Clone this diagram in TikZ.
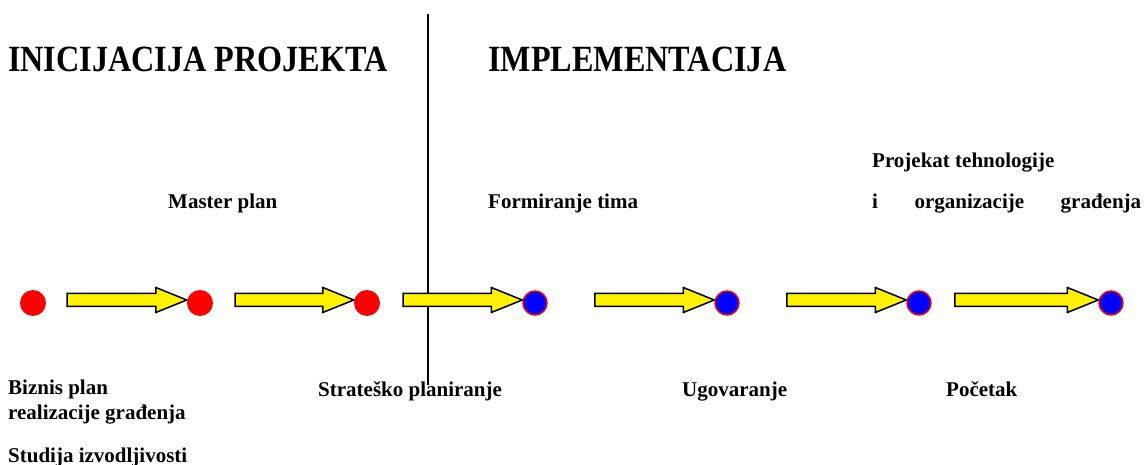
\documentclass[tikz,border=0pt]{standalone}
\usepackage{fontspec}
\setmainfont{Liberation Serif}
\newfontfamily\naslovfont[FakeStretch=0.87]{Liberation Serif}
\usetikzlibrary{calc}

% blok strelica od repa #1 do vrha #2
\newcommand\blokstrelica[2]{%
  \draw[strelica] ($(#1)+(0,-6.5)$) -- ($(#2)+(-31,-6.5)$) -- ($(#2)+(-31,-12.5)$)
    -- (#2) -- ($(#2)+(-31,12.5)$) -- ($(#2)+(-31,6.5)$) -- ($(#1)+(0,6.5)$) -- cycle;}

\begin{document}
\begin{tikzpicture}
[x=1pt,y=-1pt,
 faza/.style ={font=\naslovfont\bfseries\fontsize{37}{40}\selectfont, anchor=base west, inner sep=0pt},
 oznaka/.style ={font=\bfseries\fontsize{21}{24}\selectfont, anchor=base west, inner sep=0pt},
 pocetna/.style ={circle, fill=red, minimum size=26pt, inner sep=0pt},
 zavrsna/.style ={circle, draw=red, line width=1.5pt, fill=blue, minimum size=24pt, inner sep=0pt},
 strelica/.style ={draw=black, line width=1.5pt, fill=yellow, line join=miter}]
\useasboundingbox (0,0) rectangle (1144,465);

% granica izmedju faza
\draw[line width=1.2pt] (428,14) -- (428,385);
\node[faza] (ini) at (8,72) {INICIJACIJA PROJEKTA};
\node[faza] (imp) at (488,72) {IMPLEMENTACIJA};

% tacke
\path (33,303) node[pocetna] (A) {}
      (200,303) node[pocetna] (B) {}
      (367,303) node[pocetna] (C) {}
      (535,303) node[zavrsna] (D) {}
      (727,303) node[zavrsna] (E) {}
      (919,303) node[zavrsna] (F) {}
      (1111,303) node[zavrsna] (G) {};

% repovi i vrhovi strelica
\coordinate (AB-rep) at ($(A.east)+(21,-3)$);
\coordinate (AB-vrh) at ($(B.west)+(0,-3)$);
\coordinate (BC-rep) at ($(B.east)+(22,-3)$);
\coordinate (BC-vrh) at ($(C.west)+(0,-3)$);
\coordinate (CD-rep) at ($(C.east)+(23,-3)$);
\coordinate (CD-vrh) at ($(D.west)+(0,-3)$);
\coordinate (DE-rep) at ($(D.east)+(47,-3)$);
\coordinate (DE-vrh) at ($(E.west)+(0,-3)$);
\coordinate (EF-rep) at ($(E.east)+(47,-3)$);
\coordinate (EF-vrh) at ($(F.west)+(0,-3)$);
\coordinate (FG-rep) at ($(F.east)+(23,-3)$);
\coordinate (FG-vrh) at ($(G.west)+(0,-3)$);
\blokstrelica{AB-rep}{AB-vrh}
\blokstrelica{BC-rep}{BC-vrh}
\blokstrelica{CD-rep}{CD-vrh}
\blokstrelica{DE-rep}{DE-vrh}
\blokstrelica{EF-rep}{EF-vrh}
\blokstrelica{FG-rep}{FG-vrh}

% natpisi iznad
\node[oznaka] (master) at (168,209) {Master plan};
\node[oznaka] (tim) at (488,209) {Formiranje tima};
\node[oznaka] (proj) at (872,168) {Projekat tehnologije};
\node[oznaka] (org) at (872,209) {\makebox[269pt][s]{i organizacije građenja}};

% natpisi ispod
\node[oznaka] (biznis) at (8,394) {Biznis plan};
\node[oznaka] (realiz) at (8,419) {realizacije građenja};
\node[oznaka] (studija) at (8,462) {Studija izvodljivosti};
\node[oznaka] (strat) at (318,396) {Strateško planiranje};
\node[oznaka] (ugov) at (682,396) {Ugovaranje};
\node[oznaka] (pocetak) at (946,396) {Početak};
\end{tikzpicture}
\end{document}
